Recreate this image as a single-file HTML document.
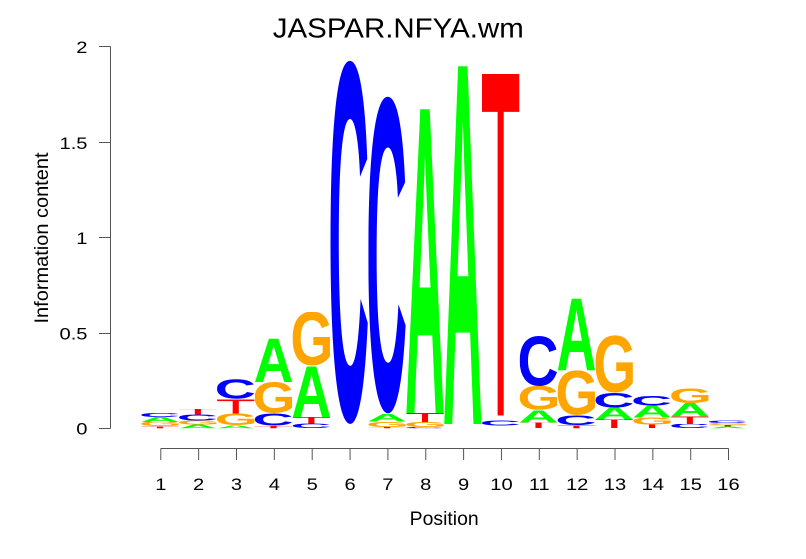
<!DOCTYPE html>
<html>
<head>
<meta charset="utf-8">
<style>
html,body{margin:0;padding:0;background:#fff;}
svg{display:block;}
text{font-family:"Liberation Sans",Arial,sans-serif;}
svg.L text{font-family:"Liberation Sans",Arial,sans-serif;font-weight:bold;font-size:100px;}
svg.LT text{font-weight:normal;}
.LA text{fill:#00ff00;}
.LC text{fill:#0000ff;}
.LG text{fill:#ffa500;}
.LT text{fill:#ff0000;}
.tk{font-size:16.5px;fill:#000;}
</style>
</head>
<body>
<svg width="806" height="559" viewBox="0 0 806 559" xmlns="http://www.w3.org/2000/svg">
<rect width="806" height="559" fill="#fff"/>
<!-- title -->
<text x="398.3" y="37.3" font-size="28" text-anchor="middle" textLength="251" lengthAdjust="spacingAndGlyphs" fill="#000">JASPAR.NFYA.wm</text>

<!-- y axis -->
<g stroke="#555" stroke-width="1" fill="none">
<line x1="110.5" y1="46.5" x2="110.5" y2="428.5"/>
<line x1="99" y1="46.5" x2="110.5" y2="46.5"/>
<line x1="99" y1="142.5" x2="110.5" y2="142.5"/>
<line x1="99" y1="237.5" x2="110.5" y2="237.5"/>
<line x1="99" y1="333.5" x2="110.5" y2="333.5"/>
<line x1="99" y1="428.5" x2="110.5" y2="428.5"/>
</g>
<g text-anchor="end">
<g transform="translate(87.5,53) scale(1.22,1)"><text class="tk" x="0" y="0">2</text></g>
<g transform="translate(87.5,149) scale(1.22,1)"><text class="tk" x="0" y="0">1.5</text></g>
<g transform="translate(87.5,244) scale(1.22,1)"><text class="tk" x="0" y="0">1</text></g>
<g transform="translate(87.5,339.5) scale(1.22,1)"><text class="tk" x="0" y="0">0.5</text></g>
<g transform="translate(87.5,434.5) scale(1.22,1)"><text class="tk" x="0" y="0">0</text></g>
</g>
<text transform="translate(48,238) rotate(-90)" font-size="19" text-anchor="middle" textLength="171" lengthAdjust="spacingAndGlyphs" fill="#000">Information content</text>

<!-- x axis -->
<g stroke="#555" stroke-width="1" fill="none">
<line x1="160.8" y1="448.5" x2="728.5" y2="448.5"/>
<line x1="160.8" y1="448.5" x2="160.8" y2="460"/>
<line x1="198.65" y1="448.5" x2="198.65" y2="460"/>
<line x1="236.5" y1="448.5" x2="236.5" y2="460"/>
<line x1="274.35" y1="448.5" x2="274.35" y2="460"/>
<line x1="312.2" y1="448.5" x2="312.2" y2="460"/>
<line x1="350.05" y1="448.5" x2="350.05" y2="460"/>
<line x1="387.9" y1="448.5" x2="387.9" y2="460"/>
<line x1="425.75" y1="448.5" x2="425.75" y2="460"/>
<line x1="463.6" y1="448.5" x2="463.6" y2="460"/>
<line x1="501.45" y1="448.5" x2="501.45" y2="460"/>
<line x1="539.3" y1="448.5" x2="539.3" y2="460"/>
<line x1="577.15" y1="448.5" x2="577.15" y2="460"/>
<line x1="615" y1="448.5" x2="615" y2="460"/>
<line x1="652.85" y1="448.5" x2="652.85" y2="460"/>
<line x1="690.7" y1="448.5" x2="690.7" y2="460"/>
<line x1="728.5" y1="448.5" x2="728.5" y2="460"/>
</g>
<g text-anchor="middle">
<g transform="translate(160.8,490) scale(1.22,1)"><text class="tk" x="0" y="0">1</text></g>
<g transform="translate(198.65,490) scale(1.22,1)"><text class="tk" x="0" y="0">2</text></g>
<g transform="translate(236.5,490) scale(1.22,1)"><text class="tk" x="0" y="0">3</text></g>
<g transform="translate(274.35,490) scale(1.22,1)"><text class="tk" x="0" y="0">4</text></g>
<g transform="translate(312.2,490) scale(1.22,1)"><text class="tk" x="0" y="0">5</text></g>
<g transform="translate(350.05,490) scale(1.22,1)"><text class="tk" x="0" y="0">6</text></g>
<g transform="translate(387.9,490) scale(1.22,1)"><text class="tk" x="0" y="0">7</text></g>
<g transform="translate(425.75,490) scale(1.22,1)"><text class="tk" x="0" y="0">8</text></g>
<g transform="translate(463.6,490) scale(1.22,1)"><text class="tk" x="0" y="0">9</text></g>
<g transform="translate(501.45,490) scale(1.22,1)"><text class="tk" x="0" y="0">10</text></g>
<g transform="translate(539.3,490) scale(1.22,1)"><text class="tk" x="0" y="0">11</text></g>
<g transform="translate(577.15,490) scale(1.22,1)"><text class="tk" x="0" y="0">12</text></g>
<g transform="translate(615,490) scale(1.22,1)"><text class="tk" x="0" y="0">13</text></g>
<g transform="translate(652.85,490) scale(1.22,1)"><text class="tk" x="0" y="0">14</text></g>
<g transform="translate(690.7,490) scale(1.22,1)"><text class="tk" x="0" y="0">15</text></g>
<g transform="translate(728.5,490) scale(1.22,1)"><text class="tk" x="0" y="0">16</text></g>
</g>
<text x="444.2" y="525" font-size="19" text-anchor="middle" textLength="69" lengthAdjust="spacingAndGlyphs" fill="#000">Position</text>

<!-- letters -->
<!-- col 1 -->
<svg class="L LT" x="141.2" y="426.3" width="37.6" height="2" viewBox="2 -68.8 57 68.8" preserveAspectRatio="none"><text x="0" y="0">T</text></svg>
<svg class="L LG" x="141.2" y="422" width="37.6" height="4.3" viewBox="4.5 -70.3 68.5 71.6" preserveAspectRatio="none"><text x="0" y="0">G</text></svg>
<svg class="L LA" x="141.2" y="417" width="37.6" height="5" viewBox="0 -68.8 72.2 68.8" preserveAspectRatio="none"><text x="0" y="0">A</text></svg>
<svg class="L LC" x="141.2" y="413" width="37.6" height="4" viewBox="4.5 -70.3 64 71.6" preserveAspectRatio="none"><text x="0" y="0">C</text></svg>
<!-- col 2 -->
<svg class="L LA" x="179.05" y="424.5" width="37.6" height="3.8" viewBox="0 -68.8 72.2 68.8" preserveAspectRatio="none"><text x="0" y="0">A</text></svg>
<svg class="L LG" x="179.05" y="420.5" width="37.6" height="4" viewBox="4.5 -70.3 68.5 71.6" preserveAspectRatio="none"><text x="0" y="0">G</text></svg>
<svg class="L LC" x="179.05" y="414.5" width="37.6" height="6" viewBox="4.5 -70.3 64 71.6" preserveAspectRatio="none"><text x="0" y="0">C</text></svg>
<svg class="L LT" x="179.05" y="409" width="37.6" height="5.5" viewBox="2 -68.8 57 68.8" preserveAspectRatio="none"><text x="0" y="0">T</text></svg>
<!-- col 3 -->
<svg class="L LA" x="216.9" y="425" width="37.6" height="3.3" viewBox="0 -68.8 72.2 68.8" preserveAspectRatio="none"><text x="0" y="0">A</text></svg>
<svg class="L LG" x="216.9" y="413.5" width="37.6" height="11.5" viewBox="4.5 -70.3 68.5 71.6" preserveAspectRatio="none"><text x="0" y="0">G</text></svg>
<svg class="L LT" x="216.9" y="399" width="37.6" height="14.5" viewBox="2 -68.8 57 68.8" preserveAspectRatio="none"><text x="0" y="0">T</text></svg>
<svg class="L LC" x="216.9" y="379" width="37.6" height="20" viewBox="4.5 -70.3 64 71.6" preserveAspectRatio="none"><text x="0" y="0">C</text></svg>
<!-- col 4 -->
<svg class="L LT" x="254.75" y="425.5" width="37.6" height="2.8" viewBox="2 -68.8 57 68.8" preserveAspectRatio="none"><text x="0" y="0">T</text></svg>
<svg class="L LC" x="254.75" y="413" width="37.6" height="12.5" viewBox="4.5 -70.3 64 71.6" preserveAspectRatio="none"><text x="0" y="0">C</text></svg>
<svg class="L LG" x="254.75" y="382" width="37.6" height="31" viewBox="4.5 -70.3 68.5 71.6" preserveAspectRatio="none"><text x="0" y="0">G</text></svg>
<svg class="L LA" x="254.75" y="337.7" width="37.6" height="44.3" viewBox="0 -68.8 72.2 68.8" preserveAspectRatio="none"><text x="0" y="0">A</text></svg>
<!-- col 5 -->
<svg class="L LC" x="292.6" y="423.5" width="37.6" height="4.8" viewBox="4.5 -70.3 64 71.6" preserveAspectRatio="none"><text x="0" y="0">C</text></svg>
<svg class="L LT" x="292.6" y="417" width="37.6" height="6.5" viewBox="2 -68.8 57 68.8" preserveAspectRatio="none"><text x="0" y="0">T</text></svg>
<svg class="L LA" x="292.6" y="366" width="37.6" height="51" viewBox="0 -68.8 72.2 68.8" preserveAspectRatio="none"><text x="0" y="0">A</text></svg>
<svg class="L LG" x="292.6" y="312" width="37.6" height="54" viewBox="4.5 -70.3 68.5 71.6" preserveAspectRatio="none"><text x="0" y="0">G</text></svg>
<!-- col 6 -->
<svg class="L LC" x="330.45" y="60" width="37.6" height="364" viewBox="4.5 -70.3 64 71.6" preserveAspectRatio="none"><text x="0" y="0">C</text></svg>
<!-- col 7 -->
<svg class="L LT" x="368.3" y="427" width="37.6" height="1.3" viewBox="2 -68.8 57 68.8" preserveAspectRatio="none"><text x="0" y="0">T</text></svg>
<svg class="L LG" x="368.3" y="421.5" width="37.6" height="5.5" viewBox="4.5 -70.3 68.5 71.6" preserveAspectRatio="none"><text x="0" y="0">G</text></svg>
<svg class="L LA" x="368.3" y="413.5" width="37.6" height="8" viewBox="0 -68.8 72.2 68.8" preserveAspectRatio="none"><text x="0" y="0">A</text></svg>
<svg class="L LC" x="368.3" y="96" width="37.6" height="317.5" viewBox="4.5 -70.3 64 71.6" preserveAspectRatio="none"><text x="0" y="0">C</text></svg>
<!-- col 8 -->
<svg class="L LC" x="406.15" y="427" width="37.6" height="1.3" viewBox="4.5 -70.3 64 71.6" preserveAspectRatio="none"><text x="0" y="0">C</text></svg>
<svg class="L LG" x="406.15" y="422" width="37.6" height="5" viewBox="4.5 -70.3 68.5 71.6" preserveAspectRatio="none"><text x="0" y="0">G</text></svg>
<svg class="L LT" x="406.15" y="413" width="37.6" height="9" viewBox="2 -68.8 57 68.8" preserveAspectRatio="none"><text x="0" y="0">T</text></svg>
<svg class="L LA" x="406.15" y="104" width="37.6" height="309" viewBox="0 -68.8 72.2 68.8" preserveAspectRatio="none"><text x="0" y="0">A</text></svg>
<!-- col 9 -->
<svg class="L LA" x="444" y="60" width="37.6" height="364" viewBox="0 -68.8 72.2 68.8" preserveAspectRatio="none"><text x="0" y="0">A</text></svg>
<!-- col 10 -->
<svg class="L LC" x="481.85" y="420.5" width="37.6" height="5" viewBox="4.5 -70.3 64 71.6" preserveAspectRatio="none"><text x="0" y="0">C</text></svg>
<svg class="L LT" x="481.85" y="73" width="37.6" height="347.5" viewBox="2 -68.8 57 68.8" preserveAspectRatio="none"><text x="0" y="0">T</text></svg>
<!-- col 11 -->
<svg class="L LT" x="519.7" y="422.5" width="37.6" height="5.8" viewBox="2 -68.8 57 68.8" preserveAspectRatio="none"><text x="0" y="0">T</text></svg>
<svg class="L LA" x="519.7" y="410" width="37.6" height="12.5" viewBox="0 -68.8 72.2 68.8" preserveAspectRatio="none"><text x="0" y="0">A</text></svg>
<svg class="L LG" x="519.7" y="386" width="37.6" height="24" viewBox="4.5 -70.3 68.5 71.6" preserveAspectRatio="none"><text x="0" y="0">G</text></svg>
<svg class="L LC" x="519.7" y="336" width="37.6" height="50" viewBox="4.5 -70.3 64 71.6" preserveAspectRatio="none"><text x="0" y="0">C</text></svg>
<!-- col 12 -->
<svg class="L LT" x="557.55" y="425" width="37.6" height="3.3" viewBox="2 -68.8 57 68.8" preserveAspectRatio="none"><text x="0" y="0">T</text></svg>
<svg class="L LC" x="557.55" y="415" width="37.6" height="10" viewBox="4.5 -70.3 64 71.6" preserveAspectRatio="none"><text x="0" y="0">C</text></svg>
<svg class="L LG" x="557.55" y="370.5" width="37.6" height="44.5" viewBox="4.5 -70.3 68.5 71.6" preserveAspectRatio="none"><text x="0" y="0">G</text></svg>
<svg class="L LA" x="557.55" y="298" width="37.6" height="72.5" viewBox="0 -68.8 72.2 68.8" preserveAspectRatio="none"><text x="0" y="0">A</text></svg>
<!-- col 13 -->
<svg class="L LT" x="595.4" y="419.5" width="37.6" height="8.8" viewBox="2 -68.8 57 68.8" preserveAspectRatio="none"><text x="0" y="0">T</text></svg>
<svg class="L LA" x="595.4" y="407.5" width="37.6" height="12" viewBox="0 -68.8 72.2 68.8" preserveAspectRatio="none"><text x="0" y="0">A</text></svg>
<svg class="L LC" x="595.4" y="392.5" width="37.6" height="15" viewBox="4.5 -70.3 64 71.6" preserveAspectRatio="none"><text x="0" y="0">C</text></svg>
<svg class="L LG" x="595.4" y="335" width="37.6" height="57.5" viewBox="4.5 -70.3 68.5 71.6" preserveAspectRatio="none"><text x="0" y="0">G</text></svg>
<!-- col 14 -->
<svg class="L LT" x="633.25" y="424.5" width="37.6" height="3.8" viewBox="2 -68.8 57 68.8" preserveAspectRatio="none"><text x="0" y="0">T</text></svg>
<svg class="L LG" x="633.25" y="417.5" width="37.6" height="7" viewBox="4.5 -70.3 68.5 71.6" preserveAspectRatio="none"><text x="0" y="0">G</text></svg>
<svg class="L LA" x="633.25" y="405.5" width="37.6" height="12" viewBox="0 -68.8 72.2 68.8" preserveAspectRatio="none"><text x="0" y="0">A</text></svg>
<svg class="L LC" x="633.25" y="396" width="37.6" height="9.5" viewBox="4.5 -70.3 64 71.6" preserveAspectRatio="none"><text x="0" y="0">C</text></svg>
<!-- col 15 -->
<svg class="L LC" x="671.1" y="424" width="37.6" height="4.3" viewBox="4.5 -70.3 64 71.6" preserveAspectRatio="none"><text x="0" y="0">C</text></svg>
<svg class="L LT" x="671.1" y="416.3" width="37.6" height="7.7" viewBox="2 -68.8 57 68.8" preserveAspectRatio="none"><text x="0" y="0">T</text></svg>
<svg class="L LA" x="671.1" y="403" width="37.6" height="13.3" viewBox="0 -68.8 72.2 68.8" preserveAspectRatio="none"><text x="0" y="0">A</text></svg>
<svg class="L LG" x="671.1" y="388" width="37.6" height="15" viewBox="4.5 -70.3 68.5 71.6" preserveAspectRatio="none"><text x="0" y="0">G</text></svg>
<!-- col 16 -->
<svg class="L LA" x="708.95" y="426.5" width="37.6" height="1.8" viewBox="0 -68.8 72.2 68.8" preserveAspectRatio="none"><text x="0" y="0">A</text></svg>
<svg class="L LT" x="708.95" y="425" width="37.6" height="1.5" viewBox="2 -68.8 57 68.8" preserveAspectRatio="none"><text x="0" y="0">T</text></svg>
<svg class="L LG" x="708.95" y="423" width="37.6" height="2" viewBox="4.5 -70.3 68.5 71.6" preserveAspectRatio="none"><text x="0" y="0">G</text></svg>
<svg class="L LC" x="708.95" y="420.5" width="37.6" height="2.5" viewBox="4.5 -70.3 64 71.6" preserveAspectRatio="none"><text x="0" y="0">C</text></svg>
</svg>
<script>
(function(){
  try{
    var c=document.createElement('canvas');
    var ctx=c.getContext('2d');
    ['A','C','G','T'].forEach(function(ch){
      ctx.font=(ch==='T'?'':'bold ')+'100px "Liberation Sans", Arial, sans-serif';
      var m=ctx.measureText(ch);
      if(typeof m.actualBoundingBoxAscent!=='number'||!m.actualBoundingBoxAscent) return;
      var l=-m.actualBoundingBoxLeft, r=m.actualBoundingBoxRight;
      var a=m.actualBoundingBoxAscent, d=m.actualBoundingBoxDescent;
      if(!(r-l>10)||!(a+d>10)) return;
      var vb=l+' '+(-a)+' '+(r-l)+' '+(a+d);
      var els=document.querySelectorAll('svg.L'+ch);
      for(var i=0;i<els.length;i++){els[i].setAttribute('viewBox',vb);}
    });
  }catch(e){}
})();
</script>
</body>
</html>
